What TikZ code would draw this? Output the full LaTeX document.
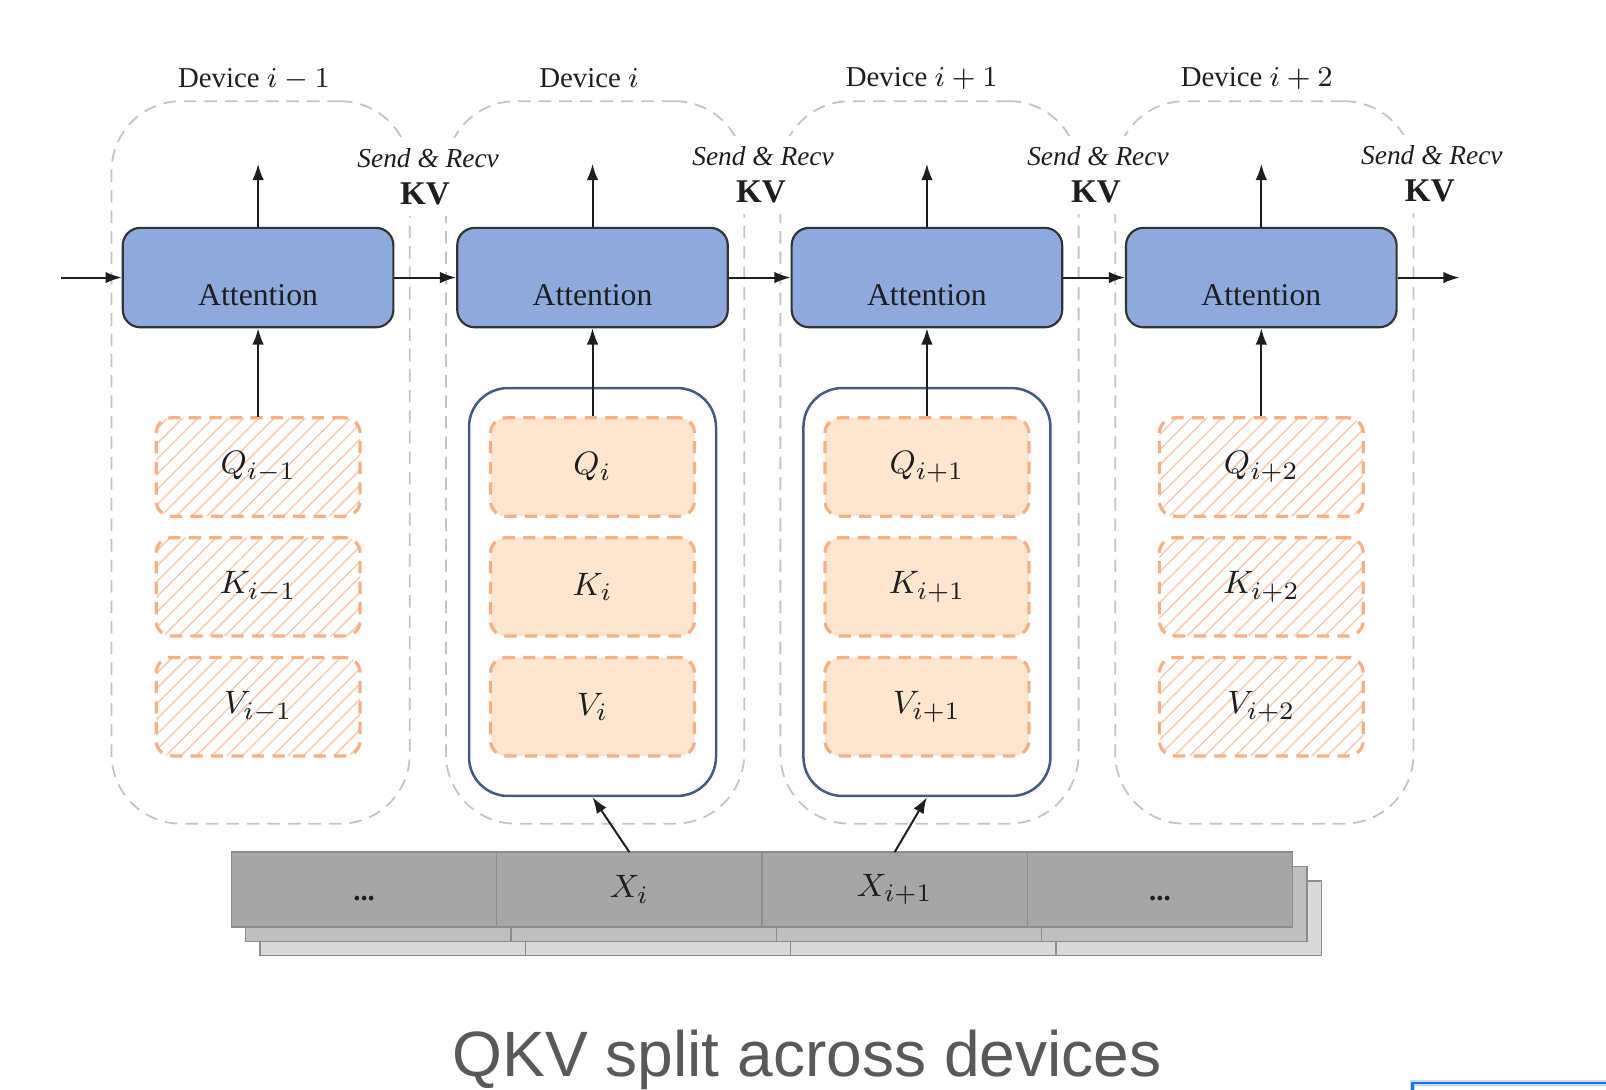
\documentclass[tikz,border=0pt]{standalone}
\usepackage{fontspec}
\setmainfont{Liberation Serif}
\newfontfamily\capfont{Liberation Sans}
\usetikzlibrary{arrows.meta,patterns.meta}

\definecolor{txt}{HTML}{1E1E1E}
\definecolor{devgray}{HTML}{C4C4C4}
\definecolor{attfill}{HTML}{8EA9DB}
\definecolor{attline}{HTML}{333333}
\definecolor{qline}{HTML}{F4B183}
\definecolor{qfill}{HTML}{FDE5D0}
\definecolor{hatch}{HTML}{F8CBAD}
\definecolor{wrapline}{HTML}{46597F}
\definecolor{tokfront}{HTML}{A6A6A6}
\definecolor{tokmid}{HTML}{BFBFBF}
\definecolor{tokback}{HTML}{D9D9D9}
\definecolor{tokline}{HTML}{8C8C8C}
\definecolor{capgray}{HTML}{595959}
\definecolor{uiblue}{HTML}{1A73E8}
\definecolor{uilight}{HTML}{C6DAF8}

\tikzset{
  device/.style={draw=devgray, line width=0.5pt, dash pattern=on 3.5pt off 2.2pt,
    rounded corners=0.68cm, minimum width=2.91cm, minimum height=7.05cm, inner sep=0pt},
  devtitle/.style={anchor=base, text=txt, font=\fontsize{8}{9}\selectfont},
  sendlabel/.style={anchor=base, fill=white, inner sep=3pt, text=txt,
    font=\itshape\fontsize{7.6}{9}\selectfont},
  kvlabel/.style={anchor=base, fill=white, inner sep=3pt, text=txt,
    font=\bfseries\fontsize{9.2}{11}\selectfont},
  att/.style={draw=attline, fill=attfill, line width=0.6pt, rounded corners=0.17cm,
    minimum width=2.64cm, minimum height=0.97cm, text height=0.54cm, text depth=0pt,
    text=txt, font=\fontsize{8.8}{11}\selectfont},
  wrap/.style={draw=wrapline, line width=0.7pt, rounded corners=0.38cm,
    minimum width=2.41cm, minimum height=3.98cm},
  qkv/.style={draw=qline, line width=0.9pt, dash pattern=on 3.4pt off 2.3pt,
    rounded corners=0.15cm, minimum width=1.99cm, minimum height=0.96cm,
    text=txt, font=\fontsize{9.5}{11}\selectfont},
  hatched/.style={qkv, pattern={Lines[angle=45,distance=3pt,line width=0.4pt]}, pattern color=hatch},
  filled/.style={qkv, fill=qfill},
  tok/.style={draw=tokline, line width=0.4pt, minimum width=2.59cm, minimum height=0.73cm,
    inner sep=0pt, outer sep=0pt, text=txt, font=\fontsize{9.5}{11}\selectfont},
  dotcell/.style={tok, text height=0.22cm, text depth=0pt, font=\bfseries\fontsize{8}{9}\selectfont},
  arr/.style={->, draw=txt, line width=0.55pt},
  caption/.style={anchor=base, text=capgray, font=\capfont\fontsize{17.8}{20}\selectfont}
}

\begin{document}
\begin{tikzpicture}[x=0.01cm, y=-0.01cm, >={Latex[length=4.5pt,width=3.2pt]}]
  \useasboundingbox (0,0) rectangle (1568,1064);

  % devices
  \node[device] (d1) at (254.5,451.5) {};
  \node[device] (d2) at (581,451.5) {};
  \node[device] (d3) at (907.5,451.5) {};
  \node[device] (d4) at (1234.5,451.5) {};
  \node[devtitle] (n1) at (248,85) {Device $i-1$};
  \node[devtitle] (n2) at (575,85) {Device $i$};
  \node[devtitle] (n3) at (900,84) {Device $i+1$};
  \node[devtitle] (n4) at (1227,84) {Device $i+2$};

  % send & recv labels
  \node[sendlabel] (s1) at (418,164) {Send \& Recv};
  \node[sendlabel] (s2) at (745,162) {Send \& Recv};
  \node[sendlabel] (s3) at (1072,162) {Send \& Recv};
  \node[sendlabel] (s4) at (1398,161) {Send \& Recv};
  \node[kvlabel] (kv1) at (415,200) {KV};
  \node[kvlabel] (kv2) at (743,198) {KV};
  \node[kvlabel] (kv3) at (1070,198) {KV};
  \node[kvlabel] (kv4) at (1396,197) {KV};

  % attention
  \node[att] (a1) at (252,271) {Attention};
  \node[att] (a2) at (578.5,271) {Attention};
  \node[att] (a3) at (905,271) {Attention};
  \node[att] (a4) at (1231.5,271) {Attention};
  \coordinate (in) at (60,271);
  \coordinate (out) at (1425,271);
  \coordinate (u1) at (252,160);
  \coordinate (u2) at (578.5,160);
  \coordinate (u3) at (905,160);
  \coordinate (u4) at (1231.5,160);

  % local blocks
  \node[wrap] (w2) at (578.5,578) {};
  \node[wrap] (w3) at (905,578) {};

  \node[hatched] (q1) at (252,456) {$Q_{i-1}$};
  \node[hatched] (k1) at (252,573) {$K_{i-1}$};
  \node[hatched] (v1) at (252,690) {$V_{i-1}$};
  \node[filled] (q2) at (578.5,456) {$Q_{i}$};
  \node[filled] (k2) at (578.5,573) {$K_{i}$};
  \node[filled] (v2) at (578.5,690) {$V_{i}$};
  \node[filled] (q3) at (905,456) {$Q_{i+1}$};
  \node[filled] (k3) at (905,573) {$K_{i+1}$};
  \node[filled] (v3) at (905,690) {$V_{i+1}$};
  \node[hatched] (q4) at (1231.5,456) {$Q_{i+2}$};
  \node[hatched] (k4) at (1231.5,573) {$K_{i+2}$};
  \node[hatched] (v4) at (1231.5,690) {$V_{i+2}$};

  % input sequence
  \node[tok, fill=tokback] (b1) at (383.5,896.5) {};
  \node[tok, fill=tokback] (b2) at (642.5,896.5) {};
  \node[tok, fill=tokback] (b3) at (901.5,896.5) {};
  \node[tok, fill=tokback] (b4) at (1160.5,896.5) {};
  \node[tok, fill=tokmid] (m1) at (369.5,882.5) {};
  \node[tok, fill=tokmid] (m2) at (628.5,882.5) {};
  \node[tok, fill=tokmid] (m3) at (887.5,882.5) {};
  \node[tok, fill=tokmid] (m4) at (1146.5,882.5) {};
  \node[dotcell, fill=tokfront] (x1) at (355.5,868.5) {...};
  \node[tok, fill=tokfront] (x2) at (614.5,868.5) {$X_{i}$};
  \node[tok, fill=tokfront] (x3) at (873.5,868.5) {$X_{i+1}$};
  \node[dotcell, fill=tokfront] (x4) at (1132.5,868.5) {...};

  \begin{scope}[arr]
    \draw (in) -- (a1);
    \draw (a1) -- (a2);
    \draw (a2) -- (a3);
    \draw (a3) -- (a4);
    \draw (a4) -- (out);
    \draw (a1) -- (u1);
    \draw (a2) -- (u2);
    \draw (a3) -- (u3);
    \draw (a4) -- (u4);
    \draw (q1) -- (a1);
    \draw (q2) -- (a2);
    \draw (q3) -- (a3);
    \draw (q4) -- (a4);
    \draw (x2.north) -- (w2.south);
    \draw (x3.north) -- (w3.south);
  \end{scope}

  \node[caption] (cap) at (788,1051.5) {QKV split across devices};

  % window edge in the corner
  \draw[uilight, line width=1.6pt] (1379,1057.5) rectangle (1640,1120);
  \draw[uiblue, line width=0.6pt] (1379,1057.5) rectangle (1640,1120);
\end{tikzpicture}
\end{document}
